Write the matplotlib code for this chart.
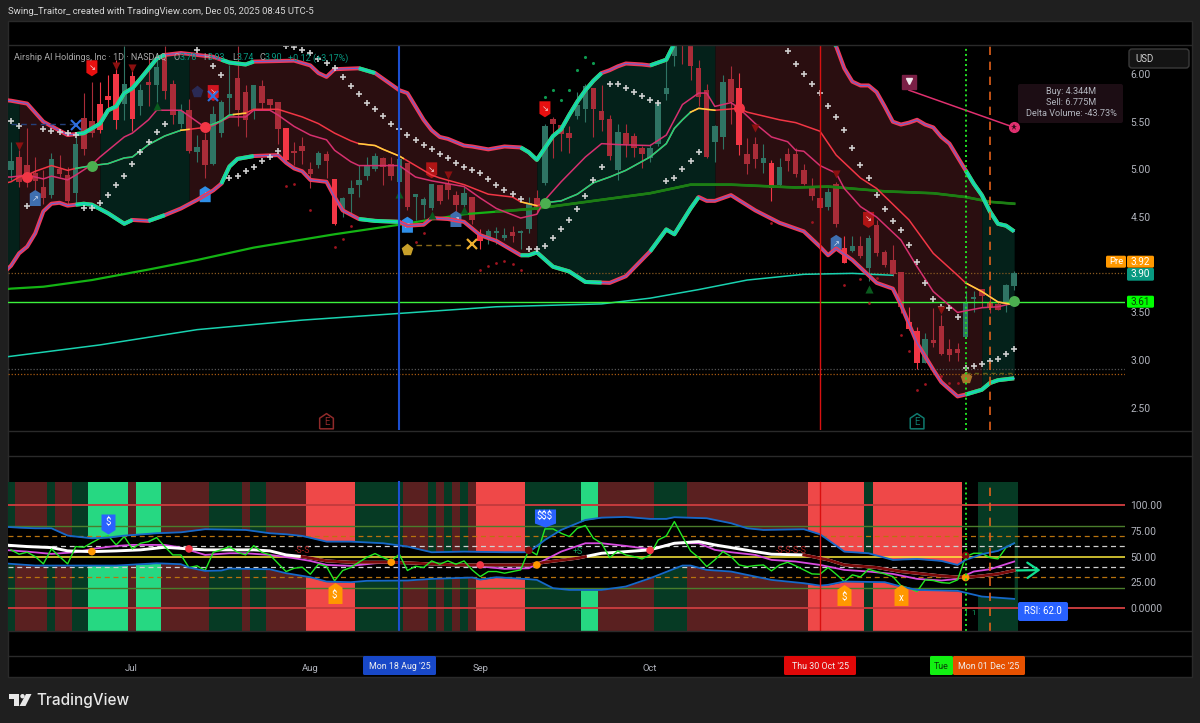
import numpy as np
import matplotlib
matplotlib.use('Agg')
import matplotlib.pyplot as plt
from matplotlib.lines import Line2D
from matplotlib.patches import FancyBboxPatch, Polygon, Circle, Rectangle
from matplotlib.path import Path

# --- size of the picture ---
W, H = 1200, 723
plt.rcParams['font.family'] = ['Roboto', 'DejaVu Sans']

# --- candles (one value per daily bar) ---
opens = [4.99,5.12,5.03,4.95,4.80,4.73,4.99,4.93,4.75,5.53,
         5.50,5.67,5.76,5.99,5.69,5.97,5.66,5.90,5.88,6.20,
         5.88,5.48,5.61,5.18,5.30,5.06,5.38,5.75,5.95,5.80,
         5.62,5.86,5.73,5.69,5.42,5.18,5.23,4.99,5.05,5.15,
         4.89,4.57,4.74,4.84,4.93,5.00,5.11,5.04,4.87,5.06,
         4.71,4.63,4.60,4.82,4.83,4.72,4.63,4.70,4.30,4.28,
         4.33,4.28,4.33,4.33,4.37,4.69,4.86,5.52,5.45,5.37,
         5.56,5.63,5.84,5.60,5.52,4.99,5.37,5.34,5.21,5.12,
         5.27,5.79,6.19,6.60,6.29,6.05,5.82,5.29,5.34,5.94,
         5.84,5.15,5.25,5.07,5.06,4.84,5.15,5.15,4.98,4.79,
         4.69,4.61,4.83,4.16,4.14,4.18,3.97,4.41,4.12,4.04,
         3.91,3.39,3.29,2.97,3.20,3.35,3.10,3.10,3.24,3.64,
         3.73,3.60,3.58,3.61,3.78]
closes = [5.08,4.87,4.92,4.88,4.70,5.10,4.95,4.67,5.25,5.21,
          5.38,5.41,5.73,5.52,5.88,5.53,5.82,5.88,6.06,5.82,
          5.57,5.60,5.19,5.22,5.05,5.57,5.69,5.78,5.62,5.52,
          5.87,5.70,5.67,5.42,5.10,5.17,5.19,4.95,5.16,5.09,
          4.43,4.69,4.79,4.88,5.03,5.13,5.02,4.93,5.10,4.61,
          4.73,4.68,4.83,4.67,4.78,4.63,4.74,4.47,4.25,4.34,
          4.34,4.30,4.30,4.34,4.64,4.57,5.44,5.48,5.37,5.33,
          5.66,5.86,5.63,5.52,5.14,5.38,5.27,5.22,5.16,5.21,
          5.67,5.84,6.29,6.36,6.08,5.76,5.13,5.44,5.90,5.71,
          5.26,5.06,5.11,5.11,4.80,5.01,5.09,4.95,4.85,4.72,
          4.60,4.75,4.43,4.02,4.19,4.09,4.27,4.12,4.00,3.90,
          3.56,3.33,2.97,3.21,3.18,3.06,3.05,3.08,3.60,3.65,
          3.67,3.56,3.53,3.78,3.90]
highs = [5.29,5.20,5.43,5.13,4.99,5.17,5.15,5.03,5.34,5.80,
         5.92,5.92,5.99,6.15,6.29,6.09,5.90,6.18,6.22,6.29,
         5.94,5.69,5.74,5.36,5.38,5.66,5.73,6.09,6.29,5.88,
         5.88,5.94,5.73,5.71,5.42,5.29,5.34,5.08,5.19,5.19,
         4.89,4.71,4.89,5.05,5.13,5.17,5.13,5.13,5.13,5.06,
         4.73,4.71,4.84,4.84,4.89,4.77,4.82,4.71,4.38,4.38,
         4.40,4.39,4.41,4.36,4.71,4.78,5.48,5.55,5.45,5.45,
         5.81,5.90,5.84,5.88,5.57,5.48,5.48,5.38,5.24,5.27,
         5.69,6.15,6.40,6.70,6.40,6.15,5.90,5.47,5.99,6.08,
         6.01,5.33,5.34,5.27,5.10,5.12,5.22,5.22,5.06,4.91,
         4.82,4.80,4.87,4.30,4.30,4.30,4.31,4.47,4.16,4.21,
         3.91,3.56,3.35,3.28,3.55,3.47,3.22,3.18,3.72,3.72,
         3.75,3.79,3.61,3.80,3.93]
lows = [4.89,4.82,4.82,4.78,4.64,4.70,4.92,4.64,4.64,5.15,
        5.34,5.38,5.64,5.42,5.52,5.40,5.57,5.66,5.71,5.74,
        5.48,5.43,5.17,5.08,4.91,5.05,5.34,5.55,5.45,5.34,
        5.53,5.62,5.62,5.27,5.08,5.05,5.06,4.80,5.01,4.91,
        4.42,4.50,4.54,4.71,4.89,4.98,4.84,4.89,4.47,4.57,
        4.47,4.49,4.57,4.64,4.69,4.50,4.57,4.43,4.17,4.22,
        4.22,4.26,4.24,4.17,4.33,4.54,4.84,5.12,5.19,5.17,
        5.53,5.50,5.34,5.40,5.10,4.89,5.13,5.13,5.01,5.08,
        5.24,5.73,6.08,6.11,5.94,5.66,5.12,5.08,5.21,5.48,
        5.15,4.95,5.01,4.96,4.67,4.82,4.98,4.92,4.84,4.68,
        4.54,4.57,4.40,4.02,4.13,4.07,3.83,4.09,3.98,3.88,
        3.49,3.32,2.91,2.97,3.14,3.05,2.99,2.99,3.23,3.51,
        3.56,3.49,3.53,3.51,3.74]
bright_bars = [11,12,13,15,34,40,58,90,94,103,111,112]

# --- bands and averages (bar index, price) ---
upper_i = [-1,0,2,4,7,9,11,12,13,14,15,16,18,19,21,23,25,27,29,30,35,37,38,39,40,43,45,46,48,
           49,50,51,52,53,54,56,57,59,61,63,64,65,67,68,69,70,71,72,73,74,75,76,78,79,81,82,83,
           90,97,100,102,103,104,105,106,107,108,109,110,111,112,113,114,115,116,117,118,119,
           120,121,122,123,124]
upper_p = [5.73,5.72,5.69,5.50,5.36,5.38,5.48,5.62,5.66,5.80,5.85,5.95,6.16,6.20,6.22,6.20,6.18,
           6.12,6.10,6.13,6.14,6.09,6.01,5.97,6.05,6.06,6.01,5.95,5.83,
           5.80,5.66,5.52,5.41,5.34,5.32,5.25,5.24,5.21,5.24,5.23,5.18,5.10,5.35,5.42,5.57,5.71,
           5.83,5.93,6.01,6.04,6.08,6.11,6.10,6.09,6.15,6.32,6.55,
           6.95,6.90,6.60,6.29,6.06,5.92,5.88,5.88,5.81,5.66,5.50,5.47,5.49,5.52,5.47,5.44,5.34,
           5.27,5.13,4.99,4.85,4.73,4.56,4.43,4.41,4.35]
lower_i = [-1,0,1,2,3,4,5,6,7,8,9,10,12,14,15,17,19,21,23,25,26,27,28,30,33,34,35,36,37,39,40,41,43,45,48,
           49,51,52,54,56,58,60,63,64,65,67,69,71,74,76,79,81,82,84,85,86,87,89,92,95,97,
           98,100,101,102,104,106,107,109,110,112,114,115,117,118,120,121,122,124]
lower_p = [3.91,3.99,4.12,4.19,4.33,4.56,4.64,4.65,4.62,4.63,4.64,4.63,4.54,4.43,4.47,4.46,4.52,4.59,
           4.68,4.78,4.85,5.03,5.11,5.14,5.15,5.07,5.01,4.98,4.89,4.87,4.71,4.57,4.48,4.46,4.45,
           4.41,4.42,4.49,4.48,4.45,4.31,4.25,4.10,4.10,4.13,3.98,3.93,3.82,3.81,3.88,4.14,4.37,
           4.32,4.59,4.71,4.67,4.67,4.73,4.57,4.44,4.38,
           4.35,4.19,4.10,4.17,4.05,3.89,3.81,3.75,3.58,3.18,2.90,2.77,2.62,2.64,2.69,2.76,2.79,2.81]
fast_i = [-1,0,1,2,3,4,5,7,8,10,12,14,15,17,19,21,22,24,26,27,29,30,33,36,38,40,42,43,45,46,48,
          50,52,53,56,59,62,63,65,66,68,70,72,74,76,79,81,82,83,84,85,87,90,91,95,97,
          100,102,105,107,111,114,117,118,120,122,124]
fast_p = [4.85,4.87,4.92,4.94,4.98,5.01,5.04,4.99,5.01,5.04,5.06,5.12,5.13,5.26,5.35,5.41,5.42,5.44,
          5.51,5.57,5.59,5.63,5.63,5.55,5.48,5.38,5.30,5.27,5.25,5.21,5.14,
          5.04,4.94,4.91,4.84,4.74,4.71,4.66,4.62,4.65,4.67,4.74,4.86,4.92,4.99,5.13,5.27,5.43,
          5.52,5.60,5.64,5.62,5.64,5.60,5.52,5.49,
          5.40,5.15,4.91,4.80,4.47,4.12,3.89,3.81,3.72,3.61,3.58]
basis_i = [-1,0,2,3,4,5,7,8,10,11,12,13,14,15,17,18,21,22,24,25,27,29,30,32,33,35,37,39,40,42,43,48,
           50,52,56,58,60,63,65,66,68,71,73,75,79,81,83,85,86,87,89,90,92,94,96,97,
           98,100,102,103,105,107,110,112,114,117,120,122,124]
basis_p = [4.92,4.92,4.94,4.92,4.90,4.93,4.89,4.94,5.05,5.13,5.20,5.27,5.34,5.38,5.52,5.62,5.62,5.56,
           5.44,5.46,5.55,5.55,5.62,5.62,5.57,5.45,5.36,5.31,5.20,5.08,5.04,5.04,
           4.92,4.88,4.82,4.70,4.59,4.49,4.53,4.68,4.87,5.13,5.27,5.26,5.25,5.36,5.68,5.80,5.80,
           5.66,5.70,5.64,5.48,5.34,5.29,5.20,
           5.19,5.04,4.96,4.80,4.61,4.50,4.26,3.98,3.72,3.50,3.55,3.56,3.60]
ma_long_i = [-1,0,4,10,17,23,30,40,48,56,65,79,84,89,97,101,108,114,118,121,124]
ma_long_p = [3.74,3.75,3.77,3.84,3.95,4.05,4.18,4.32,4.42,4.53,4.59,4.75,4.84,4.84,4.81,4.82,4.77,4.75,4.71,4.66,4.64]
ma_slow_i = [-1,11,23,36,48,60,73,79,85,91,98,104,109]
ma_slow_p = [3.03,3.16,3.32,3.42,3.49,3.56,3.59,3.65,3.74,3.84,3.90,3.91,3.89]

# --- which stretch of the band has which colour (start bar, end bar) ---
upper_green = [(8,19),(26,30),(43,45),(63,73),(79,102),(118,124)]
lower_green = [(8,15),(17,19),(26,30),(43,48),(63,73),(79,85),(118,124)]
fast_green = [(8,21),(24,27.5),(66,84)]
fast_yellow = [(21,22),(27.5,29),(43,48.5),(63,65),(84,87),(118,124)]
cloud_red = [(1,11),(22,65),(87,120)]
cloud_green = [(-1,1),(11,22),(65,87),(120,124)]

# --- crosses and small dots ---
cross_i = [0,1,2,4,5,6,7,8,9,10,11,12,13,14,15,16,17,18,19,23,25,26,27,28,29,30,31,32,33,34,35,36,37,
           38,39,40,41,42,43,44,45,46,47,48,49,50,51,52,53,54,55,56,57,58,59,60,61,62,63,64,65,66,67,
           68,69,70,71,72,73,74,75,76,77,78,79,80,81,82,83,84,85,96,97,98,99,100,101,102,103,104,105,
           106,107,108,109,110,111,112,113,114,115,116,117,118,119,120,121,122,123,124]
cross_p = [5.51,5.46,4.62,5.42,5.40,5.39,5.38,5.36,4.60,4.60,4.65,4.73,4.84,4.93,5.06,5.18,5.29,5.39,
           5.48,6.25,6.08,5.99,4.91,4.93,4.98,5.03,5.09,5.13,5.19,6.29,6.28,6.25,6.22,
           6.16,6.12,6.06,5.97,5.87,5.79,5.70,5.63,5.56,5.48,5.42,5.36,5.31,5.26,5.21,5.16,5.12,5.07,
           5.03,4.99,4.96,4.90,4.84,4.78,4.74,4.69,4.17,4.17,4.20,4.28,
           4.38,4.47,4.58,4.72,4.89,5.03,5.90,5.89,5.85,5.81,5.77,5.73,5.70,4.88,4.91,5.00,5.09,5.18,
           6.24,6.11,6.00,5.90,5.80,5.66,5.55,5.41,5.22,5.05,
           4.91,4.73,4.59,4.46,4.36,4.21,4.03,3.81,3.64,3.56,3.55,3.45,2.92,2.94,2.96,2.99,3.01,3.06,3.12]
red_dot_i = [34,35,37,40,41,42,50,51,58,59,60,61,62,63,94,99,103,105,106,107,110,111,112,113,115,116,117]
red_dot_p = [4.83,4.85,4.57,4.19,4.27,4.41,4.24,4.33,3.95,3.99,4.02,4.04,4.01,3.95,4.44,4.45,3.79,3.85,
             3.60,3.86,3.26,3.10,2.69,2.75,2.83,2.76,2.76]
green_dot_i = [66,67,68,69,70,71,72]
green_dot_p = [5.76,5.83,5.73,5.83,6.04,6.18,6.12]

# --- signals on the price pane ---
sell_i = [10,25,66,52,106]
sell_p = [6.06,5.80,5.63,4.99,4.47]
sell_c = ['#e81010','#d01520','#e81010','#b01515','#b01515']
buy_i = [3,24,49,55,102]
buy_p = [4.70,4.74,4.42,4.48,4.23]
buy_c = ['#3f6fb0','#2f8fe8','#2f8fe8','#3f6fb0','#3f6fb0']
tri_down_i = [1,13,15,54,92,102,115]
tri_down_p = [5.24,6.08,6.06,4.94,5.43,4.95,3.53]
tri_up_i = [18,48,52,56,106]
tri_up_p = [5.66,4.74,4.52,4.57,3.75]
dot_red_i = [2,24,90]
dot_red_p = [4.92,5.44,5.64]
dot_green_i = [10,66,124]
dot_green_p = [5.04,4.65,3.62]
earn_i = [39,112]

# --- key prices and dates ---
level_bid = 3.61
level_pre = 3.915
level_a = 2.91
level_b = 2.85
vline_blue, vline_red, vline_green, vline_orange = 48, 100, 118, 121
month_pos = [14.8,37,58,79]
month_lab = ['Jul','Aug','Sep','Oct']
price_ticks = [2.5,3.0,3.5,4.5,5.0,5.5,6.0]
rsi_ticks = [0,25,50,75,100]
rsi_lab = ['0.0000','25.00','50.00','75.00','100.00']

# --- RSI pane ---
rsi_vals = [56.5,52.3,54.2,50,42.9,57.4,50,42.9,59.7,59,
            63.5,67.7,70.3,61.3,69.4,57.4,62.9,64.5,68.4,59.7,
            51.6,51.6,39.4,41,36.5,54.2,56.5,59.7,54.2,51.6,
            60.6,54.2,51.6,43.5,35.5,38.7,39.7,32.9,42.6,40.3,
            26.5,36.5,39.4,44.5,49.4,52.9,49,45.8,52.3,36.5,
            40.6,39.4,45.8,42.6,45.8,42.6,45.8,37.1,30.6,35.5,
            35.5,33.9,35.5,37.1,56.5,51.6,76.8,76.8,72.6,69.4,
            77.4,80,67.7,62.9,
            49,55.5,51.6,50,47.7,51.6,66.1,70,83.9,69.4,
            55.5,49,40.3,46.8,54.8,50,41.9,40.3,41.3,41.9,
            36.1,41.9,44.5,41,37.1,33.2,32.9,39.4,32.9,25.8,
            32.3,30.3,37.7,35.5,33.2,30.6,21.9,19.4,16.1,27.4,
            26.8,24.8,24.2,27.4,50,53.2,53.2,49,47.7,58.7,62.9]
rsi_up_i = [-1,1,3,5,7,8,10,12,14,18,21,24,29,32,34,36,39,42,46,49,52,56,61,64,66,68,71,73,76,79,81,82,
            86,89,91,93,98,100,102,103,106,109,112,115,117,118,120,122,124]
rsi_up_v = [79,78,77.4,77.4,70.3,69.4,67.7,68.4,70.3,72.6,73.5,76.5,75.8,72.6,71.6,70,64.5,64.5,62.9,
            59.7,54.2,54.8,54.2,54.2,66.1,75.8,85.5,87.7,88.4,86.5,86.5,88.1,
            87.1,82.3,77.4,75.8,76.5,71.6,60.6,54.8,53.2,46.8,47.7,45.8,41.9,46.8,52.3,55.5,62.9]
rsi_lo_i = [-1,3,8,13,18,21,22,24,26,27,32,34,37,39,42,44,49,52,57,58,60,64,65,67,69,73,76,79,83,84,
            86,89,94,98,100,101,103,108,110,112,117,120,124]
rsi_lo_v = [43.5,41.3,41.3,41.3,43.5,42.6,39.4,36.1,36.5,38.4,37.7,33.9,30,25.8,25.2,26.5,26.8,28.4,
            29.7,27.7,30,28.1,27.4,19.4,17.7,17.7,21,29,41.3,41.3,
            37.1,35.5,27.4,24.2,21.9,22.6,25.8,25.2,21,17.7,16.8,11.3,9]
rsi_ma_i = [-1,2,5,8,10,13,15,19,21,24,27,29,32,35,37,39,42,45,47,50,53,57,61,64,66,68,71,73,76,79,82,
            85,87,89,92,94,97,100,103,106,109,112,115,117,119,121,124]
rsi_ma_v = [56.5,54.8,52.6,54.2,57.4,60.3,61.3,61.3,58.7,51.6,53.2,53.2,51.6,48.4,45.8,41.9,41,43.5,
            44.5,43.5,42.6,41.3,38.1,38.7,46.8,54.8,62.9,62.9,60.3,57.1,62.9,
            62.9,56.5,54.2,51.6,46.8,45.2,41.9,37.1,35.5,33.2,28.4,26.8,28.4,35.5,37.7,45.2]
thick_i = [-1,2,5,7,10,13,16,19,22,24,27,30,32,34,36,39,42,47,51,55,61,64,66,70,71,73,75,79,82,85,87,
           89,92,94,98,101,103,107,110,115,118,120,122,124]
thick_v = [61.3,59.7,58.7,55.5,54.8,55.5,56.5,59,57.4,56.5,56.5,56.5,55.5,51.6,50,45.8,44.5,44.5,43.2,
           41.9,41.9,41.9,44.5,48.4,50,53.2,54.2,56.5,62.9,64.5,61.3,
           58.7,54.8,52.3,51.6,46.8,41.9,39.4,35.5,31.3,29.7,31.3,33.2,36.5]
thick_dark = [(36,71),(98,124)]
cell_edges = [0,1,5,6,8,10,15,16,19,25,29,30,32,37,43,49,52,53,54,55,56,57,58,64,71,73,80,84,99,106,107,118,120,125]
cell_state = ['g','r','g','r','g','G','r','G','r','g','r','g','r','R','g','r','g','r','g','r','g','r','R',
              'g','G','r','g','r','R','g','R','-','g']
rsi_dot_i = [10,22,47,58,64,65,79,118,118]
rsi_dot_v = [54.8,57.4,44.5,41.9,56,41.9,56,51,29.7]
rsi_dot_c = ['#ff9800','#f23645','#ff9800','#f23645','#7a0a0a','#ff9800','#f23645','#7a0a0a','#ff9800']

CELL_COLORS = {'g':'#063a24','r':'#5a2020','G':'#26d882','R':'#ef4848'}


def fx(px):
    return px / W


def fy(py):
    return 1 - py / H


def ftext(px, py, s, **kw):
    kw.setdefault('va', 'center')
    fig.text(fx(px), fy(py), s, **kw)


def box(x0, y0, x1, y1, color, ec='none', rad=1.5, lw=0, z=10):
    fig.add_artist(FancyBboxPatch((x0, H - y1), x1 - x0, y1 - y0,
                                  boxstyle=f'round,pad=0,rounding_size={rad}', fc=color, ec=ec, lw=lw,
                                  transform=pix, zorder=z))


def hline(y, x0=8, x1=1192):
    fig.add_artist(Line2D([fx(x0), fx(x1)], [fy(y), fy(y)], color='#2a2a2a', lw=1))


def seg(xs, ys, a, b):
    xx = np.asarray(xs, dtype=float)
    sx = np.r_[a, xx[(xx > a) & (xx < b)], b]
    return sx, np.interp(sx, xs, ys)


def band_line(ax, xs, ys, greens):
    ax.plot(xs, ys, color='#f03a58', lw=2.9, zorder=6, solid_capstyle='butt')
    ax.plot(xs, ys, color='#5a66dd', lw=0.7, zorder=6.1)
    for a, b in greens:
        sx, sy = seg(xs, ys, a, b)
        ax.plot(sx, sy, color='#10e58c', lw=2.9, zorder=6.2, solid_capstyle='butt')
        ax.plot(sx, sy, color='#2ac0d8', lw=0.7, zorder=6.3)


def tag_marker(w, h, up=False):
    # little flag with a point, used for signals
    s = -1 if up else 1
    return Path([(-w/2, s*h/2), (w/2, s*h/2), (w/2, -s*h*0.28), (0, -s*h/2), (-w/2, -s*h*0.28), (-w/2, s*h/2)])


fig = plt.figure(figsize=(12, 7.23), dpi=100, facecolor='#1f1f1f')
pix = matplotlib.transforms.Affine2D().scale(1 / W, 1 / H) + fig.transFigure

# black frame and pane separators
fig.add_artist(Rectangle((fx(8), fy(677)), 1184 / W, 656 / H, transform=fig.transFigure,
                         fc='black', ec='#2a2a2a', lw=1, zorder=-1))
for y in (45, 430.5, 456, 630.5, 656):
    hline(y)

x_left, x_right = (8 - 11) / 8.09, (1125 - 11) / 8.09
ax = fig.add_axes([fx(8), fy(430), (1125 - 8) / W, (430 - 45) / H])
rsi = fig.add_axes([fx(8), fy(630.5), (1125 - 8) / W, (630.5 - 456) / H])
for a in (ax, rsi):
    a.patch.set_alpha(0)
    a.set_xlim(x_left, x_right)
    for sp in a.spines.values():
        sp.set_visible(False)
    a.yaxis.tick_right()
    a.tick_params(axis='y', length=0, pad=4, labelsize=7.4, labelcolor='#b2b5be')
    a.tick_params(axis='x', length=0)
ax.set_ylim(2.268, 6.304)
rsi.set_ylim(-21.6, 147.4)

# price pane
ax.set_xticks([])
ax.set_yticks(price_ticks)
ax.set_yticklabels([f'{p:.2f}' for p in price_ticks])

bars = np.arange(len(opens))
fine = np.arange(-1, 125)
up_fine = np.interp(fine, upper_i, upper_p)
lo_fine = np.interp(fine, lower_i, lower_p)
for a, b in cloud_red:
    m = (fine >= a) & (fine <= b)
    ax.fill_between(fine[m], lo_fine[m], up_fine[m], color='#2a0e10', lw=0, zorder=1)
for a, b in cloud_green:
    m = (fine >= a) & (fine <= b)
    ax.fill_between(fine[m], lo_fine[m], up_fine[m], color='#04211a', lw=0, zorder=1)

ax.axhline(level_pre, color='#8a5a20', lw=0.9, ls=(0, (1, 1.5)), zorder=2)
ax.axhline(level_a, color='#555555', lw=0.9, ls=(0, (1, 1.5)), zorder=2)
ax.axhline(level_b, color='#a85a10', lw=0.9, ls=(0, (1, 1.5)), zorder=2)

body_col = []
for i in bars:
    if closes[i] >= opens[i]:
        body_col.append('#2f7464')
    elif i in bright_bars:
        body_col.append('#f23645')
    else:
        body_col.append('#a92c38')
ax.vlines(bars, lows, highs, colors=body_col, lw=0.8, zorder=3)
ax.bar(bars, np.abs(np.subtract(closes, opens)) + 0.012, bottom=np.minimum(opens, closes), width=0.68,
       color=body_col, lw=0, zorder=3.1)

ax.plot(ma_slow_i, ma_slow_p, color='#19d2b0', lw=1.1, zorder=4)
ax.plot(ma_long_i, ma_long_p, color='#14b414', lw=1.6, zorder=4)
sx, sy = seg(ma_long_i, ma_long_p, 60, 124)
ax.plot(sx, sy, color='#1d7d14', lw=1.9, zorder=4.1)
ax.axhline(level_bid, color='#3cf03c', lw=1, zorder=4.2)

# flags under the band lines
sell_shape = tag_marker(11, 16)
buy_shape = tag_marker(11, 16, up=True)
ax.scatter(sell_i, sell_p, marker=sell_shape, s=133, c=sell_c, lw=0, zorder=5)
ax.scatter(buy_i, buy_p, marker=buy_shape, s=133, c=buy_c, lw=0, zorder=5)
for i, p in zip(sell_i, sell_p):
    ax.text(i, p + 0.01, '↘', color='#f4d0d0', fontsize=6, ha='center', va='center', zorder=5.1,
            family='DejaVu Sans')
for i, p in zip(buy_i, buy_p):
    ax.text(i, p - 0.01, '↗', color='#d0dcf0', fontsize=6, ha='center', va='center', zorder=5.1,
            family='DejaVu Sans')

band_line(ax, upper_i, upper_p, upper_green)
band_line(ax, lower_i, lower_p, lower_green)

ax.plot(basis_i, basis_p, color='#d6306f', lw=1.1, zorder=7)
ax.plot(fast_i, fast_p, color='#f23645', lw=1.1, zorder=7.1)
for a, b in fast_green:
    ax.plot(*seg(fast_i, fast_p, a, b), color='#19d97c', lw=1.1, zorder=7.2)
for a, b in fast_yellow:
    ax.plot(*seg(fast_i, fast_p, a, b), color='#ffd23c', lw=1.1, zorder=7.2)

ax.scatter(cross_i, cross_p, marker='+', s=15, c='#d8d8d8', lw=1.2, zorder=8, alpha=0.95)
ax.scatter(red_dot_i, red_dot_p, marker='o', s=4, c='#a01520', lw=0, zorder=8)
ax.scatter(green_dot_i, green_dot_p, marker='o', s=5, c='#0d9a50', lw=0, zorder=8)
ax.scatter(tri_down_i, tri_down_p, marker='v', s=34, c='#8b1010', lw=0, zorder=8)
ax.scatter(tri_up_i, tri_up_p, marker='^', s=34, c='#0a5a1e', lw=0, zorder=8)
ax.scatter(dot_red_i, dot_red_p, marker='o', s=62, c='#f23645', lw=0, zorder=9)
ax.scatter(dot_green_i, dot_green_p, marker='o', s=62, c='#4caf50', lw=0, zorder=9)

# hand drawn bits on the chart
ax.plot([0, 8], [5.48, 5.48], color='#24407a', lw=1, ls=(0, (4, 3)), zorder=8)
ax.plot([8, 25], [5.47, 5.77], marker='x', ms=7, mew=1.5, color='#2f6fe0', ls='none', zorder=9)
ax.plot([23], [5.81], marker='p', ms=8, color='#2a2a55', zorder=8)
ax.plot([50, 56], [4.21, 4.21], color='#8a6a18', lw=1, ls=(0, (4, 3)), zorder=8)
ax.plot([57], [4.22], marker='x', ms=7.5, mew=1.6, color='#f0b030', zorder=9)
ax.plot([49], [4.15], marker='p', ms=8, color='#c8a02a', zorder=8)
ax.plot([118], [2.81], marker='p', ms=8, color='#a8752a', zorder=8)
ax.plot([118, 124], [2.87, 2.87], color='#5a5a18', lw=1, ls=(0, (3, 3)), zorder=8)

ax.plot([111, 124], [5.83, 5.44], color='#e0306f', lw=1.1, zorder=8)
ax.plot([111], [5.92], marker='s', ms=9.5, color='#7a1f45', zorder=9)
ax.plot([111], [5.925], marker='v', ms=5, color='#f0e8ec', zorder=9.1)
ax.plot([124], [5.44], marker='o', ms=7, color='#e0306f', zorder=9)
ax.plot([124], [5.44], marker='*', ms=4.5, color='#300a18', mew=0, zorder=9.1)

earn_shape = Path([(-0.45, -0.5), (0.45, -0.5), (0.45, 0.2), (0, 0.5), (-0.45, 0.2), (-0.45, -0.5)])
for i, c in zip(earn_i, ['#8f2a2a', '#0f7a6e']):
    ax.scatter([i], [2.36], marker=earn_shape, s=120, facecolors='none', edgecolors=c, lw=1.1, zorder=8)
    ax.text(i, 2.355, 'E', color=c, fontsize=7, ha='center', va='center', zorder=8)

# vertical markers: full height up top, only over the cells in the RSI pane
cell_top = (630.5 - 481.5) / (630.5 - 456)
for a, top in ((ax, 1), (rsi, cell_top)):
    a.axvline(vline_blue, ymax=top, color='#1c4fd0', lw=1.5, zorder=9)
    a.axvline(vline_red, ymax=top, color='#d81010', lw=1, zorder=9)
    a.axvline(vline_green, ymax=top, color='#22e022', lw=1.4, ls=(0, (1, 1.6)), zorder=9)
    a.axvline(vline_orange, ymax=top, color='#e0601a', lw=1.2, ls=(0, (5, 4)), zorder=9)

# RSI pane
rsi.set_yticks(rsi_ticks)
rsi.set_yticklabels(rsi_lab)
rsi.set_xticks(month_pos)
rsi.set_xticklabels(month_lab, fontsize=6.8, color='#b2b5be')
rsi.tick_params(axis='x', pad=24)

cell_left = np.array(cell_edges[:-1]) - 0.5
cell_width = np.diff(cell_edges)
for l, w, st in zip(cell_left, cell_width, cell_state):
    if st != '-':
        rsi.bar(l, 144.3, width=w, bottom=-21.6, align='edge', color=CELL_COLORS[st], lw=0, zorder=1)

fine_r = np.arange(-1, 125)
rsi.fill_between(fine_r, np.interp(fine_r, rsi_lo_i, rsi_lo_v), np.interp(fine_r, rsi_up_i, rsi_up_v),
                 color='black', lw=0, zorder=2)

for v, c in ((100, '#c53b3d'), (0, '#c53b3d')):
    rsi.axhline(v, color=c, lw=1.4, zorder=3)
for v in (80, 20):
    rsi.axhline(v, color='#4a7d2c', lw=1, zorder=3)
for v in (70, 30):
    rsi.axhline(v, color='#b8730f', lw=0.9, ls=(0, (4, 3)), zorder=3)
for v in (60, 40):
    rsi.axhline(v, color='#cfcfcf', lw=0.9, ls=(0, (4, 3)), zorder=3)
rsi.axhline(50, color='#ffeb3b', lw=1.1, zorder=3)

rsi.plot(rsi_ma_i, rsi_ma_v, color='#d74be0', lw=1.3, zorder=4)
rsi.plot(thick_i, thick_v, color='white', lw=2.1, zorder=4.1)
for a, b in thick_dark:
    rsi.plot(*seg(thick_i, thick_v, a, b), color='#7a0a0a', lw=2.1, zorder=4.2)
rsi.plot(bars, rsi_vals, color='#22e822', lw=1, zorder=5)
rsi.plot(rsi_up_i, rsi_up_v, color='#1668c8', lw=1.3, zorder=6)
rsi.plot(rsi_lo_i, rsi_lo_v, color='#1668c8', lw=1.3, zorder=6)
rsi.scatter(rsi_dot_i, rsi_dot_v, s=30, c=rsi_dot_c, lw=0, zorder=7)

rsi.annotate('', xy=(127.6, 37), xytext=(124, 36.5), zorder=7,
             arrowprops=dict(arrowstyle='->,head_length=0.8,head_width=0.55', color='#10e090', lw=1.6))

rsi.scatter([12], [81.6], marker=tag_marker(14, 20), s=207, c='#2962ff', lw=0, zorder=8)
rsi.text(12, 84, '$', color='white', fontsize=7, ha='center', va='center', zorder=9)
rsi.scatter([66], [87], marker=tag_marker(21, 18), s=230, c='#2962ff', lw=0, zorder=8)
rsi.text(66, 89, '$$$', color='white', fontsize=7, ha='center', va='center', zorder=9)
rsi.scatter([40, 103, 110], [14.5, 13, 12.3], marker=tag_marker(14, 21, up=True), s=228, c='#ff9800',
            lw=0, zorder=8)
for i, v, s in ((40, 12.5, '$'), (103, 11, '$'), (110, 10.3, 'x')):
    rsi.text(i, v, s, color='white', fontsize=7, ha='center', va='center', zorder=9)
rsi.text(36, 55.5, '-S-S', color='#a82020', fontsize=6.4, ha='center', va='center', zorder=8)
rsi.text(96.5, 55.5, '-S-S-S-S', color='#a82020', fontsize=6.4, ha='center', va='center', zorder=8)
rsi.text(70, 55, '+S', color='#12a060', fontsize=6.4, ha='center', va='center', zorder=8)
rsi.text(118, -4.2, '1', color='#12a060', fontsize=5.5, ha='center', va='center', zorder=8)
rsi.text(119, -4.2, '1', color='#12a060', fontsize=5.5, ha='center', va='center', zorder=8)

# header and legend
ftext(8, 11, 'Swing_Traitor_ created with TradingView.com, Dec 05, 2025 08:45 UTC-5', color='#d8d8d8', fontsize=6.8)
ftext(14, 58, 'Airship AI Holdings, Inc · 1D · NASDAQ', color='#a8a8a8', fontsize=6.5, zorder=20)
for px, lab, val, vx in ((173, 'O', '3.78', 180), (203, 'H', '3.93', 208), (232, 'L', '3.74', 237), (260, 'C', '3.90', 265)):
    ftext(px, 58, lab, color='#a8a8a8', fontsize=6.5, zorder=20)
    ftext(vx, 58, val, color='#089981', fontsize=6.5, zorder=20)
ftext(288, 58, '+0.12 (+3.17%)', color='#089981', fontsize=6.5, zorder=20)

# USD button and price tags
box(1129, 49, 1189, 68, '#141414', ec='#3a3a3a', rad=3, lw=1)
ftext(1135, 59, 'USD', color='#d0d0d0', fontsize=7, zorder=11)
box(1106, 255.7, 1126, 267.7, '#ff9800')
ftext(1116, 261.7, 'Pre', color='white', fontsize=6.8, ha='center', zorder=11)
box(1127, 255.7, 1154, 267.7, '#ff9800')
ftext(1140.5, 261.7, '3.92', color='white', fontsize=7.2, ha='center', zorder=11)
box(1127, 268, 1154, 280.7, '#089981')
ftext(1140.5, 274.4, '3.90', color='white', fontsize=7.2, ha='center', zorder=11)
box(1127, 295.7, 1154, 307.7, '#00ff00')
ftext(1140.5, 301.7, '3.61', color='#0a3a0a', fontsize=7.2, ha='center', zorder=11)

# volume tooltip
box(1018, 84, 1123, 123, '#1c0d14', rad=2)
ftext(1071, 92, 'Buy: 4.344M', color='#b2b5be', fontsize=6.6, ha='center', zorder=11)
ftext(1071, 102.7, 'Sell: 6.775M', color='#b2b5be', fontsize=6.6, ha='center', zorder=11)
ftext(1071, 113.3, 'Delta Volume: -43.73%', color='#b2b5be', fontsize=6.6, ha='center', zorder=11)

box(1018, 602, 1068, 621, '#2962ff', rad=2)
ftext(1043, 611.5, 'RSI: 62.0', color='white', fontsize=6.9, ha='center', zorder=11)

# date tags on the time axis
for x0, x1, c, s, tc in ((363, 436, '#1848c8', "Mon 18 Aug '25", '#f0f0f0'),
                         (784, 856, '#e00808', "Thu 30 Oct '25", '#f0f0f0'),
                         (930, 953, '#12f012', 'Tue', '#0a3a0a'),
                         (953, 1025, '#e65100', "Mon 01 Dec '25", '#f0f0f0')):
    box(x0, 656, x1, 675, c)
    ftext((x0 + x1) / 2, 666.5, s, color=tc, fontsize=6.4, ha='center', zorder=11)

# TradingView logo
fig.add_artist(Polygon([(9, H-694), (19, H-694), (19, H-706), (14, H-706), (14, H-698.5), (9, H-698.5)],
                       fc='#e8e8e8', ec='none', transform=pix))
fig.add_artist(Circle((22.5, H-696.2), 2.2, fc='#e8e8e8', ec='none', transform=pix))
fig.add_artist(Polygon([(26, H-694), (31.5, H-694), (25.5, H-706), (19.5, H-706)],
                       fc='#e8e8e8', ec='none', transform=pix))
ftext(36, 700, 'TradingView', color='#e8e8e8', fontsize=11, family=['Inter', 'DejaVu Sans'], weight='medium')

fig.savefig('out.png', dpi=100, facecolor=fig.get_facecolor())
